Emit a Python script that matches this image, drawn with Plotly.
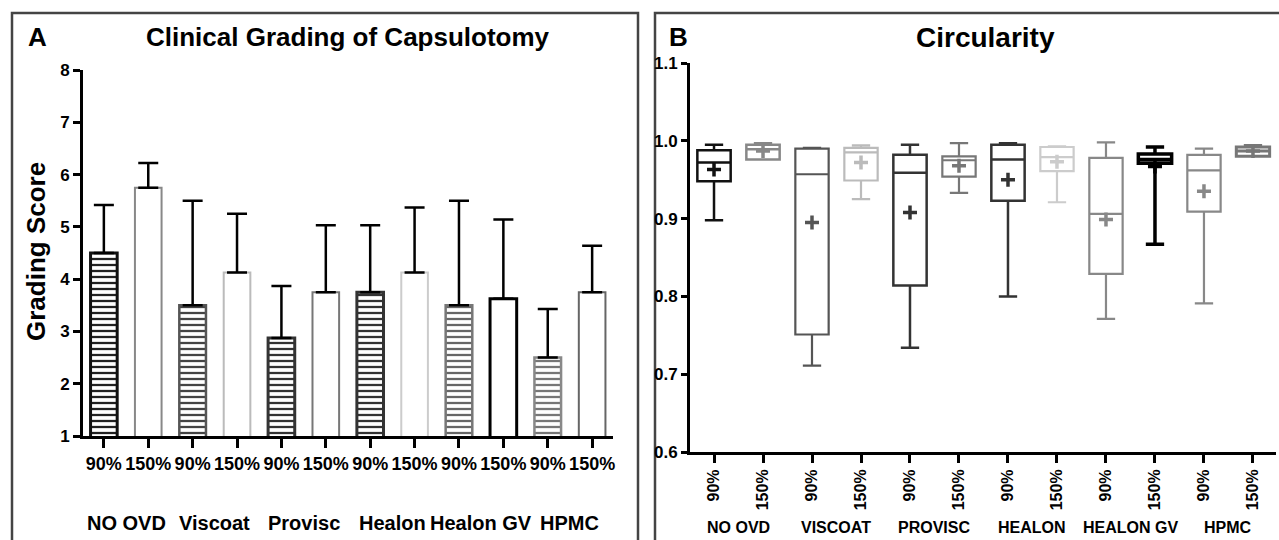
import plotly.graph_objects as go

W, H = 1279, 540

# ---------------- data ----------------
groups_a = ["NO OVD", "Viscoat", "Provisc", "Healon", "Healon GV", "HPMC"]
groups_b = ["NO OVD", "VISCOAT", "PROVISC", "HEALON", "HEALON GV", "HPMC"]
tick_labels = ["90%", "150%"] * 6

grade_mean = [4.5, 5.75, 3.5, 4.125, 2.875, 3.75, 3.75, 4.125, 3.5, 3.625, 2.5, 3.75]
grade_sd = [0.92, 0.47, 2.0, 1.125, 0.995, 1.28, 1.28, 1.245, 2.0, 1.515, 0.93, 0.89]

circ_upper = [0.995, 0.997, 0.991, 0.994, 0.995, 0.997, 0.997, 0.993, 0.998, 0.992, 0.990, 0.994]
circ_q3 = [0.988, 0.995, 0.990, 0.991, 0.982, 0.980, 0.995, 0.992, 0.978, 0.983, 0.982, 0.992]
circ_median = [0.972, 0.989, 0.957, 0.985, 0.959, 0.975, 0.976, 0.979, 0.906, 0.976, 0.962, 0.987]
circ_q1 = [0.948, 0.976, 0.751, 0.949, 0.814, 0.954, 0.923, 0.961, 0.829, 0.971, 0.909, 0.980]
circ_lower = [0.898, 0.976, 0.711, 0.925, 0.734, 0.933, 0.800, 0.921, 0.771, 0.867, 0.791, 0.980]
circ_mean = [0.963, 0.987, 0.895, 0.972, 0.908, 0.968, 0.950, 0.973, 0.899, 0.967, 0.935, 0.987]

# ---------------- styles ----------------
bar_pattern = ["-", "", "-", "", "-", "", "-", "", "-", "", "-", ""]
bar_fg = ["#222", "#fff", "#444", "#fff", "#333", "#fff", "#333", "#fff", "#666", "#fff", "#777", "#fff"]
bar_line = ["#111", "#888", "#555", "#bbb", "#333", "#777", "#333", "#ccc", "#777", "#000", "#888", "#666"]
bar_lw = [3, 2, 2.5, 2, 3, 2, 3, 2, 2.5, 3, 2.5, 2]

box_color = ["#111", "#888", "#555", "#bbb", "#333", "#777", "#333", "#ccc", "#888", "#000", "#888", "#777"]
box_lw = [2.5, 2.5, 2.2, 2.2, 2.5, 2.2, 2.5, 2.2, 2.2, 3.5, 2.2, 3]

FONT = "Liberation Sans, Arial, sans-serif"


def px_x(p):
    return p / W


def px_y(p):
    return 1 - p / H


positions = list(range(len(tick_labels)))

fig = go.Figure()

# ---------------- panel A: bars ----------------
fig.add_trace(go.Bar(
    x=positions, y=grade_mean, width=0.6,
    marker=dict(
        color="white",
        line=dict(color=bar_line, width=bar_lw),
        pattern=dict(shape=bar_pattern, fgcolor=bar_fg, bgcolor="white",
                     size=6, solidity=0.38, fillmode="replace"),
    ),
    error_y=dict(type="data", symmetric=False, array=grade_sd,
                 arrayminus=[0] * len(grade_sd), color="black",
                 thickness=2.5, width=10),
    xaxis="x", yaxis="y", showlegend=False,
))

# ---------------- panel B: boxes ----------------
for i in positions:
    fig.add_trace(go.Box(
        x=[i], q1=[circ_q1[i]], median=[circ_median[i]], q3=[circ_q3[i]],
        lowerfence=[circ_lower[i]], upperfence=[circ_upper[i]],
        width=0.68, whiskerwidth=0.55, boxpoints=False,
        line=dict(color=box_color[i], width=box_lw[i]),
        fillcolor="rgba(255,255,255,0)",
        xaxis="x2", yaxis="y2", showlegend=False,
    ))

fig.add_trace(go.Scatter(
    x=positions, y=circ_mean, mode="markers",
    marker=dict(symbol="cross-thin", size=10,
                line=dict(color=box_color, width=3.5)),
    xaxis="x2", yaxis="y2", showlegend=False,
))

axis_common = dict(showline=True, linecolor="black", linewidth=3,
                   ticks="outside", tickcolor="black", tickwidth=2.5,
                   showgrid=False, zeroline=False, automargin=False)

fig.update_layout(
    width=W, height=H,
    margin=dict(l=0, r=0, t=0, b=0, pad=0, autoexpand=False),
    paper_bgcolor="white", plot_bgcolor="white",
    font=dict(family=FONT, color="black"),
    xaxis=dict(domain=[px_x(83), px_x(613)], range=[-0.47, 11.47],
               tickvals=positions, ticktext=tick_labels, ticklen=9,
               tickfont=dict(size=18, family=FONT, weight="bold"),
               anchor="y", **axis_common),
    yaxis=dict(domain=[px_y(436), px_y(70)], range=[1, 8], dtick=1,
               ticklen=7, tickfont=dict(size=17, family=FONT, weight="bold"),
               anchor="x", **axis_common),
    xaxis2=dict(domain=[px_x(690), px_x(1276)], range=[-0.49, 11.47],
                tickvals=positions, ticktext=tick_labels, ticklen=8,
                tickangle=-90,
                tickfont=dict(size=16, family=FONT, weight="bold"),
                anchor="y2", **axis_common),
    yaxis2=dict(domain=[px_y(452), px_y(63)], range=[0.6, 1.1], dtick=0.1,
                tickformat=".1f", ticklen=6,
                tickfont=dict(size=17, family=FONT, weight="bold"),
                anchor="x2", **axis_common),
)

# panel frames
fig.add_shape(type="rect", xref="paper", yref="paper",
              x0=px_x(12), x1=px_x(638), y0=-0.02, y1=px_y(13),
              line=dict(color="#444", width=2.5), layer="below")
fig.add_shape(type="rect", xref="paper", yref="paper",
              x0=px_x(655), x1=1.02, y0=-0.02, y1=px_y(13),
              line=dict(color="#444", width=2.5), layer="below")


def label(text, x, y, size, xref="paper", angle=0):
    return dict(text=text, x=x, y=y, xref=xref, yref="paper", showarrow=False,
                xanchor="center", yanchor="middle", textangle=angle,
                font=dict(size=size, family=FONT, weight="bold", color="black"))


ann = [
    label("A", px_x(37), px_y(37), 26),
    label("Clinical Grading of Capsulotomy", px_x(348), px_y(37), 26),
    label("B", px_x(678), px_y(37), 26),
    label("Circularity", px_x(985), px_y(37), 28),
    label("Grading Score", px_x(36), px_y(252), 26, angle=-90),
]
for g, name in enumerate(groups_a):
    ann.append(label(name, 2 * g + 0.5, px_y(523), 20, xref="x"))
for g, name in enumerate(groups_b):
    ann.append(label(name, 2 * g + 0.5, px_y(527), 16, xref="x2"))

fig.update_layout(annotations=ann)

fig.write_html("out.html",
               config={"displayModeBar": False},
               post_script="document.body.style.margin='0';document.body.style.overflow='hidden';")
